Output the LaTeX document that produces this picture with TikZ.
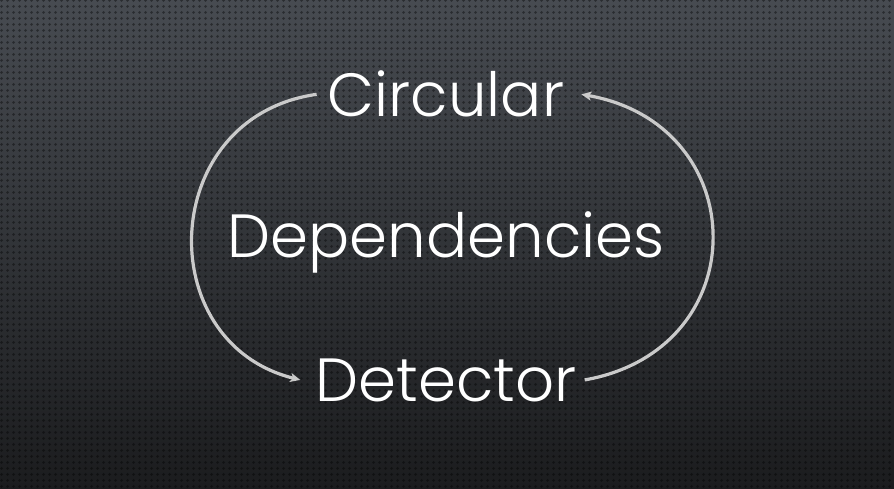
\documentclass[tikz,border=0pt]{standalone}
\usepackage{fontspec}
\setmainfont{Poppins Light}
\usetikzlibrary{positioning,arrows.meta,patterns.meta}

\definecolor{bgtop}{HTML}{474B51}
\definecolor{bgbottom}{HTML}{1B1C1E}
\definecolor{arcgray}{HTML}{CACACA}

\tikzdeclarepattern{
  name=bgdots,
  type=uncolored,
  bottom left={(0pt,0pt)},
  top right={(6pt,6pt)},
  tile size={(6pt,6pt)},
  code={\fill (3pt,3pt) circle (1.7pt);}
}

\begin{document}
\begin{tikzpicture}[
    x=1pt,y=1pt,
    word/.style={text=white,font=\fontsize{61}{68}\selectfont,inner sep=0pt},
    arc/.style={draw=arcgray,line width=3.2pt,-{Stealth[length=10pt,width=9pt,inset=2.5pt]}}
]

% background
\shade[top color=bgtop,bottom color=bgbottom] (0,0) rectangle (894,488);
\fill[pattern=bgdots,pattern color=black,fill opacity=0.4] (0,0) rectangle (894,488);
\useasboundingbox (0,0) rectangle (894,488);

\node[word,anchor=base] (dep) at (446,230) {Dependencies};
\node[word] (circ) [above=141pt of dep.base,anchor=base] {Circular};
\node[word] (det) [below=143pt of dep.base,anchor=base] {Detector};

\draw[arc] ([xshift=-11pt]circ.west) .. controls +(188:160) and +(166:155) .. ([xshift=-15pt]det.west);
\draw[arc] ([xshift=8pt]det.east) .. controls +(10:175) and +(-10:175) .. ([xshift=17pt]circ.east);

\end{tikzpicture}
\end{document}
